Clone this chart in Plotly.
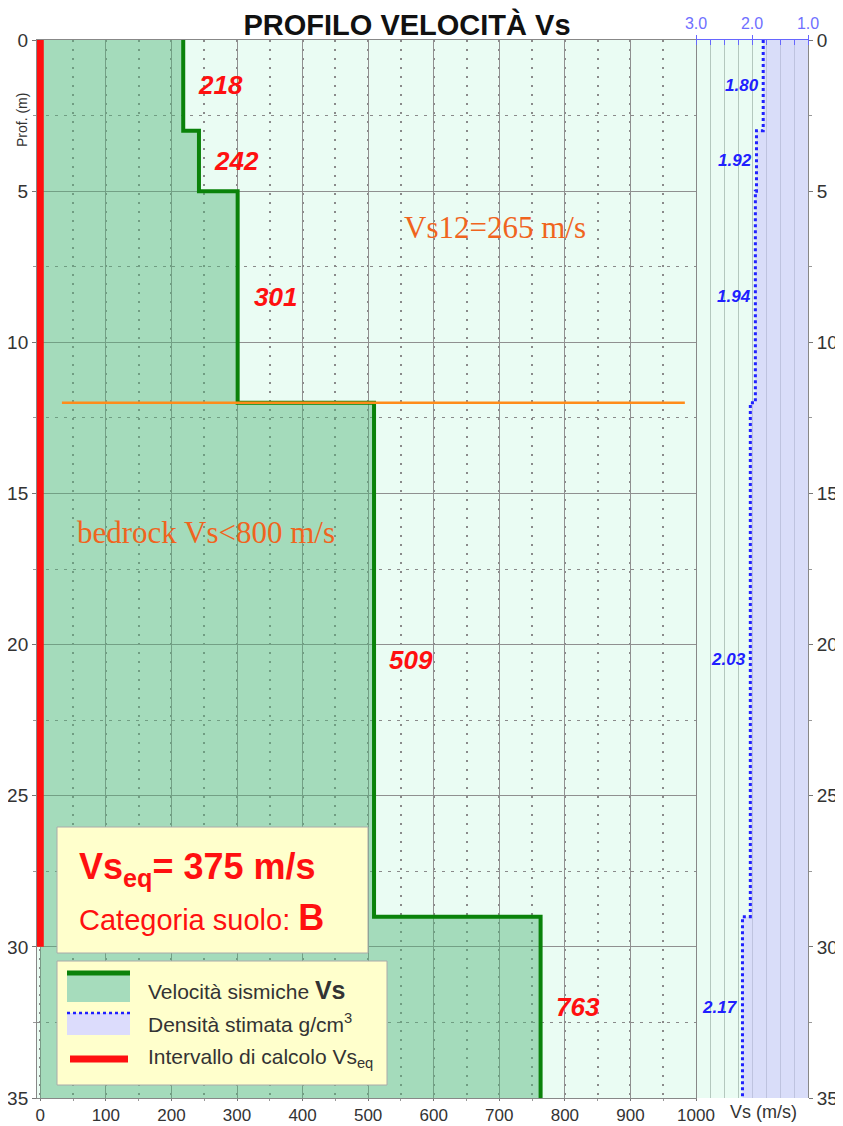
import plotly.graph_objects as go

# ---------------- data ----------------
layer_top = [0, 3, 5, 12, 29]
layer_bottom = [3, 5, 12, 29, 35]
vs_values = [218, 242, 301, 509, 763]
density_values = [1.80, 1.92, 1.94, 2.03, 2.17]
calc_interval = [0, 30]          # Vs_eq calculation interval (m)
vs12_depth = 12
vs12_line_x = [33, 983]
vs_eq = 375
vs12 = 265
soil_category = "B"
x_ticks = [0, 100, 200, 300, 400, 500, 600, 700, 800, 900, 1000]
y_ticks = [0, 5, 10, 15, 20, 25, 30, 35]
density_ticks = [3.0, 2.0, 1.0]
density_minor_ticks = [3.0, 2.75, 2.5, 2.25, 2.0, 1.75, 1.5, 1.25, 1.0]

# ---------------- geometry helpers ----------------
# the page body adds an 8px offset; positions below are given in page pixels
OFF = 8
W, H = 835, 1118
ML, MR, MT, MB = 29, 35, 32, 28
PW, PH = W - ML - MR, H - MT - MB
def PX(px):
    return (px - OFF - ML) / PW
def PY(py):
    return 1 - (py - OFF - MT) / PH
split = PX(696)

# step profiles built from layer data
vs_x, vs_y, de_x, de_y = [], [], [], []
for t, b, v, d in zip(layer_top, layer_bottom, vs_values, density_values):
    vs_x += [v, v]; vs_y += [t, b]
    de_x += [d, d]; de_y += [t, b]

GREEN = "#0a820a"
RED = "#ff1010"
BLUE = "#2020ff"
ORANGE_TXT = "#f0641e"
FONT = "Liberation Sans"

fig = go.Figure()
fig.add_trace(go.Scatter(x=vs_x, y=vs_y, mode="lines", fill="tozerox",
                         fillcolor="rgba(80,180,120,0.45)",
                         line=dict(color=GREEN, width=4), xaxis="x", yaxis="y",
                         hoverinfo="skip", showlegend=False))
fig.add_trace(go.Scatter(x=de_x, y=de_y, mode="lines", fill="tozerox",
                         fillcolor="rgba(200,190,255,0.5)",
                         line=dict(color=BLUE, width=3, dash="dot"),
                         xaxis="x2", yaxis="y2", hoverinfo="skip", showlegend=False))
fig.add_trace(go.Scatter(x=vs12_line_x, y=[vs12_depth, vs12_depth], mode="lines",
                         line=dict(color="#ff8c1a", width=2.5), xaxis="x", yaxis="y",
                         hoverinfo="skip", showlegend=False))
fig.add_trace(go.Scatter(x=[0, 0], y=calc_interval, mode="lines",
                         line=dict(color=RED, width=7), xaxis="x", yaxis="y",
                         hoverinfo="skip", showlegend=False))

ann = []
# layer velocity labels
for t, b, v in zip(layer_top, layer_bottom, vs_values):
    ann.append(dict(x=v + 57, y=(t + b) / 2, xref="x", yref="y", showarrow=False,
                    xanchor="center", yanchor="middle",
                    text=f"<b><i>{v}</i></b>", font=dict(family=FONT, size=26, color=RED)))
# density labels
for t, b, d in zip(layer_top, layer_bottom, density_values):
    ann.append(dict(x=d, y=(t + b) / 2, xref="x2", yref="y2", showarrow=False,
                    xanchor="right", yanchor="middle", xshift=-2,
                    text=f"<b><i>{d:.2f}</i></b>", font=dict(family=FONT, size=17, color=BLUE)))
# serif notes
ann.append(dict(x=694, y=6.2, xref="x", yref="y", showarrow=False, xanchor="center", yanchor="middle",
                text=f"Vs12={vs12} m/s", font=dict(family="Liberation Serif", size=31, color=ORANGE_TXT)))
ann.append(dict(x=253, y=16.3, xref="x", yref="y", showarrow=False, xanchor="center", yanchor="middle",
                text="bedrock Vs&lt;800 m/s", font=dict(family="Liberation Serif", size=31, color=ORANGE_TXT)))
# axis titles
ann.append(dict(x=PX(22), y=PY(120), xref="paper", yref="paper", showarrow=False,
                xanchor="center", yanchor="middle",
                textangle=-90, text="Prof. (m)", font=dict(family=FONT, size=14, color="#333")))
ann.append(dict(x=PX(763), y=PY(1112), xref="paper", yref="paper", showarrow=False,
                xanchor="center", yanchor="middle",
                text="Vs (m/s)", font=dict(family=FONT, size=18, color="#333")))
# Vs_eq box texts
ann.append(dict(x=PX(77), y=PY(869), xref="paper", yref="paper", showarrow=False,
                xanchor="left", yanchor="middle",
                text=f"<b>Vs<sub>eq</sub>= {vs_eq} m/s</b>", font=dict(family=FONT, size=36, color=RED)))
ann.append(dict(x=PX(77), y=PY(917), xref="paper", yref="paper", showarrow=False,
                xanchor="left", yanchor="middle",
                text=f"Categoria suolo: <b><span style='font-size:36px'>{soil_category}</span></b>",
                font=dict(family=FONT, size=29, color=RED)))
# legend texts
leg_txt = [("Velocità sismiche <b><span style='font-size:25px'>Vs</span></b>", 990),
           ("Densità stimata g/cm<sup>3</sup>", 1023),
           ("Intervallo di calcolo Vs<sub>eq</sub>", 1058)]
for txt, py in leg_txt:
    ann.append(dict(x=PX(146), y=PY(py), xref="paper", yref="paper", showarrow=False,
                    xanchor="left", yanchor="middle",
                    text=txt, font=dict(family=FONT, size=21, color="#333")))

shapes = [
    dict(type="rect", xref="paper", yref="paper", x0=PX(57), x1=PX(368), y0=PY(827), y1=PY(953),
         fillcolor="#ffffcc", line=dict(color="#aaaaaa", width=1)),
    dict(type="rect", xref="paper", yref="paper", x0=PX(57), x1=PX(387), y0=PY(961), y1=PY(1085),
         fillcolor="#ffffcc", line=dict(color="#aaaaaa", width=1)),
    dict(type="rect", xref="paper", yref="paper", x0=PX(67), x1=PX(130), y0=PY(973), y1=PY(1002),
         fillcolor="#a6dcbc", line=dict(width=0)),
    dict(type="line", xref="paper", yref="paper", x0=PX(67), x1=PX(130), y0=PY(973), y1=PY(973),
         line=dict(color=GREEN, width=5)),
    dict(type="rect", xref="paper", yref="paper", x0=PX(67), x1=PX(130), y0=PY(1013), y1=PY(1035),
         fillcolor="#dcdcfc", line=dict(width=0)),
    dict(type="line", xref="paper", yref="paper", x0=PX(67), x1=PX(130), y0=PY(1013), y1=PY(1013),
         line=dict(color=BLUE, width=2.5, dash="dot")),
    dict(type="line", xref="paper", yref="paper", x0=PX(70), x1=PX(128), y0=PY(1059), y1=PY(1059),
         line=dict(color=RED, width=7)),
]

fig.update_layout(
    width=W, height=H,
    margin=dict(l=ML, r=MR, t=MT, b=MB, autoexpand=False),
    paper_bgcolor="white", plot_bgcolor="#eafcf3",
    showlegend=False,
    title=dict(text="<b>PROFILO VELOCITÀ Vs</b>", x=(407 - OFF) / W, xanchor="center",
               y=1 - (25 - OFF) / H, yanchor="middle", font=dict(family=FONT, size=29, color="#111"),
               automargin=False),
    xaxis=dict(domain=[0, split], range=[-5, 1000], anchor="y", side="bottom", automargin=False,
               tickvals=x_ticks, tickfont=dict(family=FONT, size=17, color="#333"),
               ticks="outside", ticklen=2, tickcolor="#777",
               showgrid=True, gridcolor="#909090", gridwidth=1.2, zeroline=False,
               minor=dict(dtick=50, tick0=0, showgrid=True, gridcolor="#8a8a8a", griddash="2px,7px",
                          gridwidth=1.5, ticks="outside", ticklen=2, tickcolor="#999"),
               showline=True, linecolor="#888", mirror=True),
    yaxis=dict(domain=[0, 1], range=[35, 0], anchor="x", automargin=False,
               tickvals=y_ticks, tickfont=dict(family=FONT, size=19, color="#333"),
               ticks="outside", ticklen=4, tickcolor="#777",
               showgrid=True, gridcolor="#909090", gridwidth=1.2, zeroline=False,
               minor=dict(dtick=2.5, tick0=0, showgrid=True, gridcolor="#8a8a8a", griddash="3px,6px",
                          gridwidth=1.3, ticks="outside", ticklen=3, tickcolor="#999"),
               showline=True, linecolor="#888", mirror=True),
    xaxis2=dict(domain=[split, 1], range=[3, 1], anchor="y2", side="top", automargin=False,
                tickvals=density_ticks, ticktext=[f"{v:.1f}" for v in density_ticks],
                tickfont=dict(family=FONT, size=16, color="#6f6fff"),
                ticks="outside", ticklen=4, tickcolor="#6666ff",
                showgrid=True, gridcolor="#b4c8be", gridwidth=1, zeroline=False,
                minor=dict(tickvals=density_minor_ticks, showgrid=True, gridcolor="#b4c8be", gridwidth=1,
                           ticks="inside", ticklen=5, tickcolor="#6666ff"),
                showline=True, linecolor="#6666ff"),
    xaxis3=dict(range=[3, 1], overlaying="x2", anchor="y2", side="bottom", automargin=False,
                showticklabels=False, showgrid=False, zeroline=False,
                tickvals=density_minor_ticks,
                ticks="inside", ticklen=5, tickcolor="#6666ff",
                showline=True, linecolor="#6666ff"),
    yaxis2=dict(domain=[0, 1], range=[35, 0], anchor="x2", side="right", automargin=False,
                tickvals=y_ticks, tickfont=dict(family=FONT, size=19, color="#333"),
                ticks="outside", ticklen=4, tickcolor="#777",
                minor=dict(dtick=2.5, tick0=0, ticks="outside", ticklen=3, tickcolor="#999"),
                showgrid=False, zeroline=False, showline=True, linecolor="#888"),
    annotations=ann,
    shapes=shapes,
)

fig.write_html("out.html")
